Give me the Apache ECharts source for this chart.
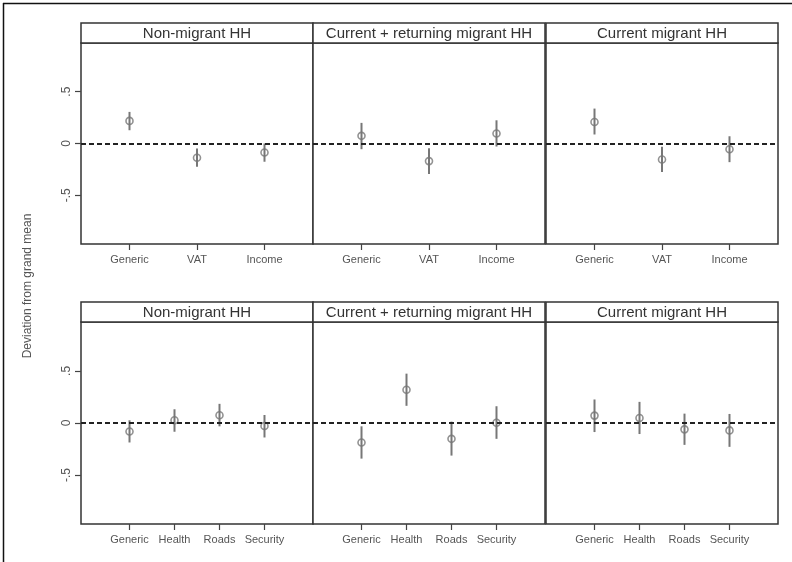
<!DOCTYPE html>
<html>
<head>
<meta charset="utf-8">
<script src="https://cdn.jsdelivr.net/npm/echarts@6/dist/echarts.min.js"></script>
<style>
html,body{margin:0;padding:0;background:#fff;}
#chart{width:792px;height:562px;}
</style>
</head>
<body>
<div id="chart"></div>
<script>
// ---------- data ----------
const panelTitles = ['Non-migrant HH', 'Current + returning migrant HH', 'Current migrant HH'];
const topCats = ['Generic', 'VAT', 'Income'];
const botCats = ['Generic', 'Health', 'Roads', 'Security'];
const yTickValues = [-0.5, 0, 0.5];
const yTickLabels = ['-.5', '0', '.5'];
const yTitle = 'Deviation from grand mean';

// top row (Generic, VAT, Income)
const topNonMigPoint = [0.218, -0.138, -0.087];
const topNonMigLow   = [0.128, -0.224, -0.176];
const topNonMigHigh  = [0.305, -0.048, 0.000];

const topCurRetPoint = [0.074, -0.170, 0.096];
const topCurRetLow   = [-0.055, -0.295, -0.029];
const topCurRetHigh  = [0.199, -0.045, 0.224];

const topCurPoint = [0.208, -0.154, -0.055];
const topCurLow   = [0.087, -0.276, -0.180];
const topCurHigh  = [0.337, -0.032, 0.070];

// bottom row (Generic, Health, Roads, Security)
const botNonMigPoint = [-0.081, 0.026, 0.074, -0.029];
const botNonMigLow   = [-0.187, -0.084, -0.032, -0.139];
const botNonMigHigh  = [0.026, 0.132, 0.184, 0.077];

const botCurRetPoint = [-0.187, 0.319, -0.152, 0.003];
const botCurRetLow   = [-0.342, 0.165, -0.313, -0.152];
const botCurRetHigh  = [-0.032, 0.474, 0.013, 0.161];

const botCurPoint = [0.071, 0.048, -0.061, -0.071];
const botCurLow   = [-0.087, -0.106, -0.210, -0.229];
const botCurHigh  = [0.226, 0.203, 0.090, 0.087];

// ---------- layout ----------
const FONT = '"Liberation Sans", Arial, sans-serif';
const colLeft = [81, 313, 546];
const colWidth = 232;
const rows = [
  {stripTop: 23, top: 43, height: 201, cats: topCats,
   panels: [[topNonMigPoint, topNonMigLow, topNonMigHigh],
            [topCurRetPoint, topCurRetLow, topCurRetHigh],
            [topCurPoint, topCurLow, topCurHigh]]},
  {stripTop: 302, top: 322, height: 202, cats: botCats,
   panels: [[botNonMigPoint, botNonMigLow, botNonMigHigh],
            [botCurRetPoint, botCurRetLow, botCurRetHigh],
            [botCurPoint, botCurLow, botCurHigh]]}
];

const grid = [], xAxis = [], yAxis = [], series = [], graphic = [];
let gi = 0;
rows.forEach((row, r) => {
  const n = row.cats.length;
  const marginRatio = n === 3 ? 0.7185 : 1.078;
  const xVals = row.cats.map((c, i) => i + 1);
  row.panels.forEach((pd, c) => {
    grid.push({left: colLeft[c], top: row.top, width: colWidth, height: row.height,
      show: true, borderColor: '#333', borderWidth: 1.5, backgroundColor: '#fff', containLabel: false});
    xAxis.push({type: 'value', gridIndex: gi, position: 'bottom', min: 1 - marginRatio, max: n + marginRatio,
      splitLine: {show: false}, axisLine: {show: false, onZero: false},
      axisTick: {show: true, customValues: xVals, length: 6, lineStyle: {color: '#444', width: 1.2}},
      axisLabel: {show: true, customValues: xVals, margin: 10, color: '#555', fontSize: 11, fontFamily: FONT,
        formatter: v => row.cats[Math.round(v) - 1] || ''}});
    yAxis.push({type: 'value', gridIndex: gi, position: 'left', min: -0.97, max: 0.97,
      splitLine: {show: false}, axisLine: {show: false, onZero: false},
      axisTick: {show: c === 0, customValues: yTickValues, length: 6, lineStyle: {color: '#444', width: 1.2}},
      axisLabel: {show: c === 0, customValues: yTickValues, rotate: 90, margin: 8, color: '#555', fontSize: 12, fontFamily: FONT,
        formatter: v => yTickLabels[yTickValues.findIndex(t => Math.abs(t - v) < 1e-9)]}});
    const [pt, lo, hi] = pd;
    series.push({type: 'custom', xAxisIndex: gi, yAxisIndex: gi, z: 2,
      data: xVals.map((x, i) => [x, lo[i], hi[i]]),
      encode: {x: 0, y: [1, 2]},
      renderItem: (params, api) => {
        const p1 = api.coord([api.value(0), api.value(1)]);
        const p2 = api.coord([api.value(0), api.value(2)]);
        return {type: 'line', shape: {x1: p1[0], y1: p1[1], x2: p2[0], y2: p2[1]},
          style: {stroke: '#777', lineWidth: 2}};
      }});
    series.push({type: 'scatter', xAxisIndex: gi, yAxisIndex: gi, z: 3,
      data: xVals.map((x, i) => [x, pt[i]]),
      symbol: 'circle', symbolSize: 7,
      itemStyle: {color: 'rgba(255,255,255,0)', borderColor: '#777', borderWidth: 1.6},
      markLine: {silent: true, symbol: 'none', label: {show: false}, animation: false,
        lineStyle: {color: '#222', type: [5, 3], width: 1.8}, data: [{yAxis: 0}]}});
    // strip header
    graphic.push({type: 'rect', shape: {x: colLeft[c], y: row.stripTop, width: colWidth, height: row.top - row.stripTop},
      style: {fill: '#fff', stroke: '#333', lineWidth: 1.5}, z: 10});
    graphic.push({type: 'text', x: colLeft[c] + colWidth / 2, y: (row.stripTop + row.top) / 2 + 0.5,
      style: {text: panelTitles[c], fill: '#333', font: '15px ' + FONT, textAlign: 'center', textVerticalAlign: 'middle'}, z: 11});
    gi++;
  });
});
// y-axis title
graphic.push({type: 'text', x: 28, y: 286, rotation: Math.PI / 2,
  style: {text: yTitle, fill: '#555', font: '12px ' + FONT, textAlign: 'center', textVerticalAlign: 'middle'}, z: 11});
// outer frame (top and left edges)
graphic.push({type: 'line', shape: {x1: 3, y1: 3.5, x2: 792, y2: 3.5}, style: {stroke: '#111', lineWidth: 1.5}, z: 11});
graphic.push({type: 'line', shape: {x1: 3.5, y1: 3, x2: 3.5, y2: 562}, style: {stroke: '#111', lineWidth: 1.5}, z: 11});

const chart = echarts.init(document.getElementById('chart'), null, {renderer: 'canvas'});
chart.setOption({animation: false, backgroundColor: '#fff', grid, xAxis, yAxis, series, graphic});
</script>
</body>
</html>
